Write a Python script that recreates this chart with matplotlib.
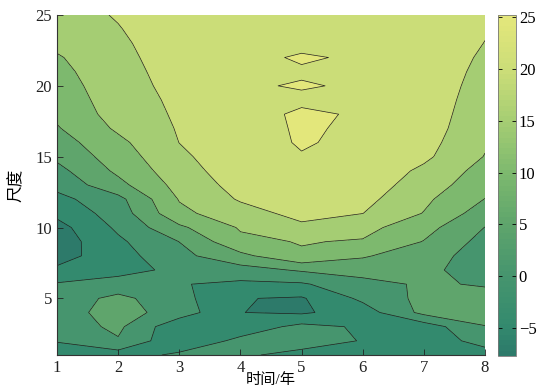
import numpy as np
import matplotlib
matplotlib.use("Agg")
import matplotlib.pyplot as plt
from matplotlib.colors import LinearSegmentedColormap, Normalize
from matplotlib.cm import ScalarMappable

plt.rcParams['font.family'] = ['Liberation Serif', 'Noto Sans CJK SC']
plt.rcParams['font.size'] = 12
plt.rcParams['contour.negative_linestyle'] = 'solid'

# grid: time (years) x scale
time_years = [1, 2, 3, 4, 5, 6, 7, 8]
scales = list(range(1, 26))

# coefficient values for scale 1..25, one list per year
z_t1 = [-2.7, 0.3, 2.4, 2.65, 2.2, 0.46, -4.1, -7.0, -7.7, -6.8, -3.8, -1.5, 1.5,
        3.5, 6.0, 7.8, 9.6, 11.0, 11.8, 12.6, 13.5, 14.5, 16.2, 17.3, 18.3]
z_t2 = [-2.46, 4.57, 6.0, 7.2, 6.3, 1.96, -1.6, -2.0, -0.9, 0.9, 2.3, 3.5, 8.5,
        11.0, 12.5, 13.8, 15.8, 17.0, 17.6, 18.1, 18.5, 18.9, 19.3, 19.8, 20.3]
z_t3 = [1.0, -4.0, -3.84, 2.56, 1.7, 0.25, 1.07, 3.55, 5.05, 9.05, 13.8, 15.3, 16.7,
        17.9, 19.0, 20.05, 20.4, 20.7, 21.0, 21.4, 21.7, 22.0, 22.3, 22.5, 22.5]
z_t4 = [0.6, 1.29, -3.0, -4.94, -4.8, -1.0, 3.0, 8.7, 13.9, 15.47, 18.0, 20.5, 21.8,
        22.8, 23.4, 23.95, 24.29, 24.49, 24.3, 24.84, 24.5, 24.61, 24.3, 24.0, 23.6]
z_t5 = [-1.2, 1.8, 1.4, -5.7, -5.49, -0.6, 5.6, 14.4, 15.26, 19.0, 21.5, 22.8, 23.8,
        24.5, 24.87, 25.2, 25.2, 25.2, 24.77, 25.1, 24.85, 25.15, 24.65, 24.4, 24.1]
z_t6 = [-1.0, -0.2, -0.6, -2.5, 1.07, 3.5, 6.83, 10.56, 14.6, 16.6, 20.05, 21.5, 22.8,
        23.6, 24.0, 24.46, 24.73, 24.87, 24.7, 24.84, 24.6, 24.81, 24.4, 24.0, 23.6]
z_t7 = [-3.5, -3.2, -2.7, 6.4, 6.38, 5.6, 6.0, 7.0, 9.8, 11.8, 14.8, 16.0, 17.5,
        19.0, 21.0, 21.8, 22.5, 22.8, 23.1, 23.3, 23.5, 23.5, 23.4, 23.2, 23.0]
z_t8 = [-2.44, 2.0, 4.9, 6.2, 6.6, 4.6, 3.0, 2.9, 3.3, 4.9, 7.5, 9.89, 12.0,
        13.2, 14.8, 15.6, 16.2, 16.8, 17.3, 17.9, 18.5, 19.2, 19.9, 20.4, 20.8]

contour_levels = [-5, 0, 5, 10, 15, 20, 25]
cbar_ticks = [-5, 0, 5, 10, 15, 20, 25]

Z = np.column_stack([z_t1, z_t2, z_t3, z_t4, z_t5, z_t6, z_t7, z_t8])
X, Y = np.meshgrid(time_years, scales)
zmin, zmax = Z.min(), Z.max()

# muted "summer"-like colormap
node_vals = [zmin, -5, 0, 5, 10, 15, 20, zmax]
node_cols = ['#2d7a6a', '#338a6e', '#46956e', '#5fa56c',
             '#7db96e', '#a5cd73', '#cbdd78', '#e4e77b']
norm = Normalize(vmin=zmin, vmax=zmax)
cmap = LinearSegmentedColormap.from_list(
    'muted_summer', [(norm(v), c) for v, c in zip(node_vals, node_cols)])

# fill each band with the colour of its lower level (matlab style)
fill_levels = [zmin] + contour_levels + [zmax + 1e-6]
band_cols = [cmap(norm(v)) for v in fill_levels[:-1]]

fig = plt.figure(figsize=(5.57, 3.87), dpi=100)
ax = fig.add_axes([57 / 557, 1 - 355 / 387, 428 / 557, 340 / 387])
cax = fig.add_axes([498 / 557, 1 - 356 / 387, 18 / 557, 341 / 387])

ax.contourf(X, Y, Z, levels=fill_levels, colors=band_cols)
ax.contour(X, Y, Z, levels=contour_levels, colors='#1e1e1e',
           linewidths=0.5, linestyles='solid')

ax.set_xlim(1, 8)
ax.set_ylim(1, 25)
ax.set_xticks(range(1, 9))
ax.set_yticks([5, 10, 15, 20, 25])
ax.tick_params(direction='in', length=4, width=0.6, colors='#222222')
for s in ['top', 'right']:
    ax.spines[s].set_visible(False)
for s in ['left', 'bottom']:
    ax.spines[s].set_linewidth(0.8)
    ax.spines[s].set_color('#333333')

ax.set_xlabel('时间/年', fontsize=11)
ax.set_ylabel('尺度')
ax.xaxis.set_label_coords(0.5, -0.052)
ax.yaxis.set_label_coords(-0.075, 0.5)

sm = ScalarMappable(norm=norm, cmap=cmap.resampled(64))
cb = fig.colorbar(sm, cax=cax, ticks=cbar_ticks)
cb.outline.set_linewidth(0.6)
cb.outline.set_edgecolor('#777777')
cax.tick_params(direction='in', length=3, width=0.6, pad=2, left=True, right=True)

fig.savefig('out.png', dpi=100)
